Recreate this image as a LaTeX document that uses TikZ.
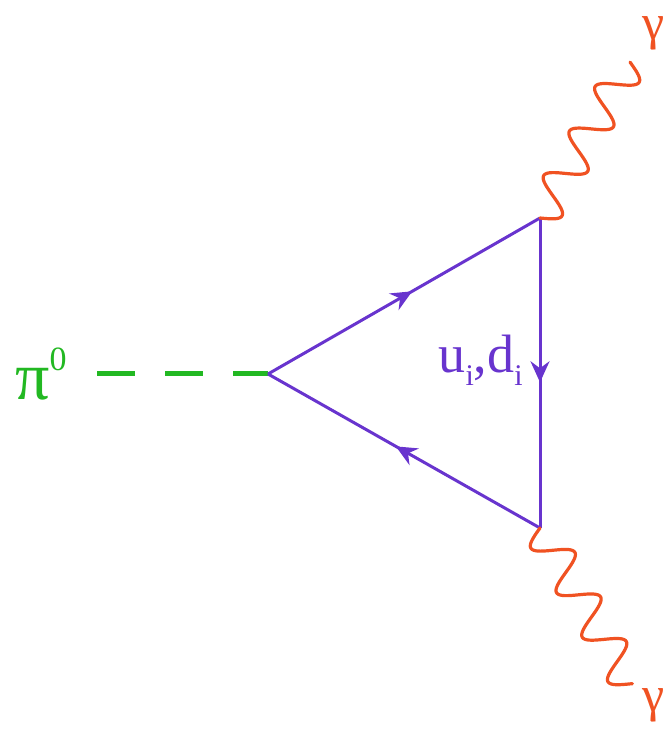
\documentclass[tikz,border=0pt]{standalone}
\usepackage{fontspec}
\setmainfont{Liberation Serif}
\usetikzlibrary{arrows.meta,decorations.markings}
\definecolor{quark}{RGB}{104,52,206}
\definecolor{phot}{RGB}{240,82,34}
\definecolor{pion}{RGB}{34,184,34}
\tikzset{
  fermion/.style={draw=quark,line width=3pt,postaction={decorate},
    decoration={markings,mark=at position 0.53 with {\arrow[quark]{Stealth[length=21pt,width=19pt,inset=7pt]}}}},
  photon/.style={draw=phot,line width=3.2pt,line cap=round},
  scalar/.style={draw=pion,line width=5pt,dash pattern=on 38pt off 30pt},
  lab/.style={inner sep=0pt},
}
\begin{document}
\begin{tikzpicture}[x=1pt,y=1pt]
\useasboundingbox (0,0) rectangle (671,738);
\coordinate (L) at (268,364);
\coordinate (T) at (540,520);
\coordinate (B) at (540,210);
\coordinate (P) at (97,364);
\draw[scalar] (P) -- (L);
\draw[fermion] (L) -- (T);
\draw[fermion] (T) -- (B);
\draw[fermion] (B) -- (L);
\begin{scope}[shift={(T)},rotate=60]
  \draw[photon] plot[domain=0:180,samples=240,smooth] (\x,{-18*sin(\x*7)});
\end{scope}
\begin{scope}[shift={(B)},rotate=-60]
  \draw[photon] plot[domain=0:181,samples=240,smooth] (\x,{-18*sin(\x*7)});
\end{scope}
\node[lab,anchor=base west,text=pion] (pi) at (15,338) {\fontsize{68}{70}\selectfont π\raisebox{0.44em}{\fontsize{34}{36}\selectfont 0}};
\node[lab,text=phot] (gtop) at (654,705) {\fontsize{50}{52}\selectfont γ};
\node[lab,text=phot] (gbot) at (654,33) {\fontsize{50}{52}\selectfont γ};
\node[lab,anchor=base east,text=quark] (q) at (523,365) {\fontsize{54}{56}\selectfont u\raisebox{-0.24em}{\fontsize{30}{32}\selectfont i},d\raisebox{-0.24em}{\fontsize{30}{32}\selectfont i}};
\end{tikzpicture}
\end{document}
